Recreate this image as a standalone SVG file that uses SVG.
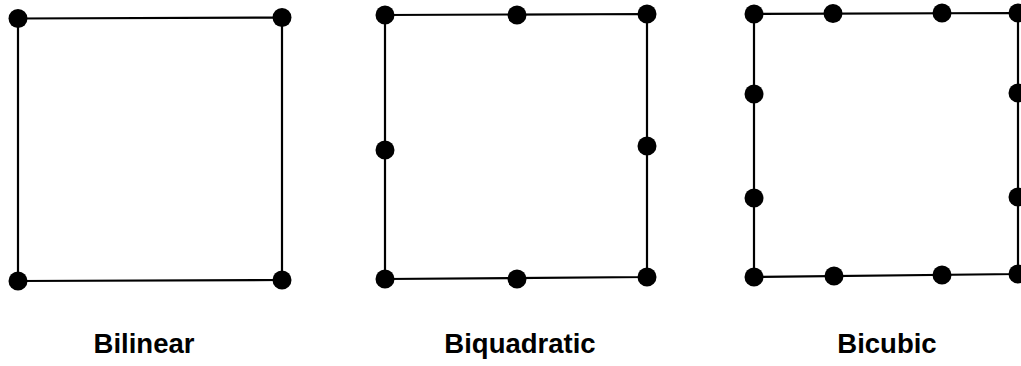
<svg xmlns="http://www.w3.org/2000/svg" width="1021" height="366" viewBox="0 0 1021 366">
<style>
.edge{fill:none;stroke:#000;stroke-width:2.2}
.dot{fill:#000}
.lbl{font-family:"Liberation Sans",Arial,sans-serif;font-weight:bold;font-size:27.5px;fill:#000;text-anchor:middle}
</style>
<rect width="1021" height="366" fill="#fff"/>
<g id="connectors">
<polygon class="edge" points="18,18.5 282,17.5 282,280 18,281"/>
<polygon class="edge" points="385,15 647,14 647,277 385,279"/>
<polygon class="edge" points="754,14 1018,13 1018,274 754,277"/>
</g>
<g id="bilinear">
<circle class="dot" cx="18" cy="18.5" r="9.5"/>
<circle class="dot" cx="282" cy="17.5" r="9.5"/>
<circle class="dot" cx="18" cy="281" r="9.5"/>
<circle class="dot" cx="282" cy="280" r="9.5"/>
<text class="lbl" x="144" y="353">Bilinear</text>
</g>
<g id="biquadratic">
<circle class="dot" cx="385" cy="15" r="9.5"/>
<circle class="dot" cx="517" cy="15" r="9.5"/>
<circle class="dot" cx="647" cy="14" r="9.5"/>
<circle class="dot" cx="385" cy="150" r="9.5"/>
<circle class="dot" cx="647" cy="146" r="9.5"/>
<circle class="dot" cx="385" cy="279" r="9.5"/>
<circle class="dot" cx="517" cy="279" r="9.5"/>
<circle class="dot" cx="647" cy="277" r="9.5"/>
<text class="lbl" x="520" y="353">Biquadratic</text>
</g>
<g id="bicubic">
<circle class="dot" cx="754" cy="14" r="9.5"/>
<circle class="dot" cx="833" cy="13.5" r="9.5"/>
<circle class="dot" cx="942" cy="13" r="9.5"/>
<circle class="dot" cx="1018" cy="13" r="9.5"/>
<circle class="dot" cx="754" cy="94" r="9.5"/>
<circle class="dot" cx="754" cy="198" r="9.5"/>
<circle class="dot" cx="1018" cy="93" r="9.5"/>
<circle class="dot" cx="1018" cy="197" r="9.5"/>
<circle class="dot" cx="754" cy="277" r="9.5"/>
<circle class="dot" cx="834" cy="276" r="9.5"/>
<circle class="dot" cx="942" cy="275" r="9.5"/>
<circle class="dot" cx="1018" cy="274" r="9.5"/>
<text class="lbl" x="887" y="353">Bicubic</text>
</g>
</svg>
